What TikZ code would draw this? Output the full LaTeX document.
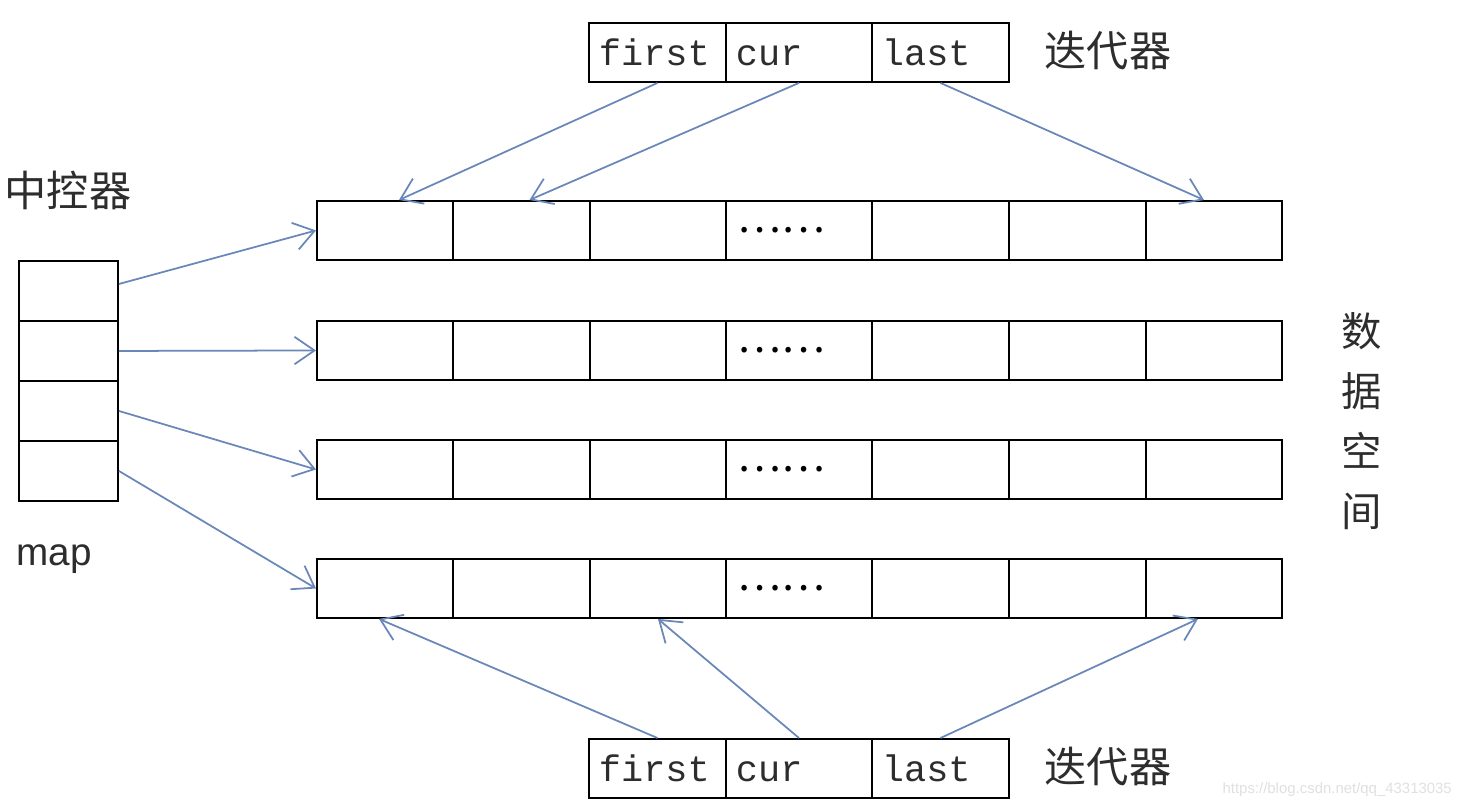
\documentclass[tikz,border=0pt]{standalone}
\usepackage{fontspec}
\setmonofont{Liberation Mono}
\setsansfont{Liberation Sans}
\newfontfamily\cjk{Noto Sans CJK SC}
\usetikzlibrary{arrows.meta}
\definecolor{arrowblue}{RGB}{105,135,185}
\definecolor{inkgray}{RGB}{45,45,45}

\begin{document}
\begin{tikzpicture}[x=0.2mm, y=-0.2mm,
		box/.style={draw, line width=1.1pt, anchor=north west, inner sep=0pt, minimum height=11.8mm},
		txtbox/.style={box, inner xsep=2mm, align=left, execute at begin node={\vphantom{fl}}, text=inkgray, font=\ttfamily\fontsize{21}{21}\selectfont},
		zh/.style={text=inkgray, font=\cjk\fontsize{24}{24}\selectfont},
		ptr/.style={draw=arrowblue, line width=1pt, -{Straight Barb[length=4mm, width=5.5mm]}}]
		\useasboundingbox (0,0) rectangle (1466,808);
		
		% data space: four rows of seven cells
		\foreach \r/\y in {1/200, 2/320, 3/439, 4/558} {
			\foreach \c/\xa/\xb in {1/316/452, 2/452/589, 3/589/725, 4/725/871, 5/871/1008, 6/1008/1145, 7/1145/1281}
				\node [box, minimum width={(\xb-\xa)*0.2mm}] (r\r-\c) at (\xa,\y) {};
			\node [anchor=west, inner sep=0pt, font=\cjk\fontsize{23.5}{23.5}\selectfont] (dots\r) at ([xshift=2.4mm]r\r-4.west) {……};
		}
		
		% map
		\foreach \i/\y in {1/260, 2/320, 3/380, 4/440}
			\node [box, minimum width=19.8mm, minimum height=12mm] (m\i) at (18,\y) {};
		
		% iterators, top and bottom
		\foreach \p/\y in {t/22, b/738} {
			\node [txtbox, text width=23.4mm] (\p-first) at (588,\y) {first};
			\node [txtbox, text width=25.2mm] (\p-cur) at (725,\y) {cur};
			\node [txtbox, text width=23.4mm] (\p-last) at (871,\y) {last};
			\node [zh] (\p-iter) at (1108,\y+29) {迭代器};
		}
		
		\node [zh] (ctrl) at (68,190) {中控器};
		\node [text=inkgray, font=\sffamily\fontsize{22}{22}\selectfont] (maplabel) at (54,559) {map};
		\node [zh, align=center, font=\cjk\fontsize{23}{34}\selectfont] (space) at (1362,421) {数\\据\\空\\间};
		
		% pointers
		\draw [ptr] (t-first.south) -- ([xshift=2.8mm]r1-1.north);
		\draw [ptr] (t-cur.south) -- ([xshift=1.6mm]r1-2.north);
		\draw [ptr] (t-last.south) -- ([xshift=-2mm]r1-7.north);
		\draw [ptr] (b-first.north) -- ([xshift=-1.2mm]r4-1.south);
		\draw [ptr] (b-cur.north) -- (r4-3.south);
		\draw [ptr] (b-last.north) -- ([xshift=-3.2mm]r4-7.south);
		\draw [ptr] ([yshift=1.4mm]m1.east) -- (r1-1.west);
		\foreach \i in {2,3,4}
			\draw [ptr] (m\i.east) -- (r\i-1.west);
		
		\node [anchor=east, text=black!12, font=\sffamily\fontsize{8.5}{8.5}\selectfont] (mark) at (1458,790) {https://blog.csdn.net/qq\_43313035};
	\end{tikzpicture}
\end{document}
